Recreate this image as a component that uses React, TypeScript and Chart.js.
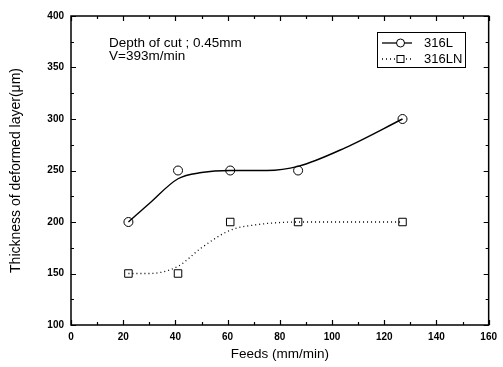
import React, { useEffect, useRef } from "react";
import { Chart, registerables } from "chart.js";

Chart.register(...registerables);

// Measured points (markers)
const feeds = [22, 41, 61, 87, 127];
const thick316L = [200, 250, 250, 250, 300];
const thick316LN = [150, 150, 200, 200, 200];

// Smoothed fit curves
const curveFeedsL = [22, 30, 41, 50, 61, 75, 87, 105, 127];
const curveL = [200, 218, 242, 248, 250, 250, 254, 272, 300];
const curveFeedsLN = [22, 30, 41, 50, 61, 70, 87, 105, 127];
const curveLN = [150, 150, 157, 175, 192, 197, 200, 200, 200];

const seriesNames = ["316L", "316LN"];
const noteLines = ["Depth of cut ; 0.45mm", "V=393m/min"];
const xTitle = "Feeds (mm/min)";
const yTitle = "Thickness of deformed layer(\u03bcm)";

const FONT = "'Liberation Sans', Arial, sans-serif";

const framePlugin = {
  id: "framePlugin",
  afterDraw(chart: any) {
    const { ctx, chartArea: a, scales } = chart;
    const xs = scales.x;
    const ys = scales.y;
    ctx.save();
    ctx.strokeStyle = "#000";
    ctx.lineWidth = 1.5;
    ctx.strokeRect(a.left, a.top, a.right - a.left, a.bottom - a.top);
    ctx.lineWidth = 1.2;
    for (let v = 0; v <= 160; v += 10) {
      const px = Math.round(xs.getPixelForValue(v)) + 0.5;
      const len = v % 20 === 0 ? 5 : 3;
      ctx.beginPath();
      ctx.moveTo(px, a.bottom);
      ctx.lineTo(px, a.bottom - len);
      ctx.moveTo(px, a.top);
      ctx.lineTo(px, a.top + len);
      ctx.stroke();
    }
    for (let v = 100; v <= 400; v += 25) {
      const py = Math.round(ys.getPixelForValue(v)) + 0.5;
      const len = v % 50 === 0 ? 5 : 3;
      ctx.beginPath();
      ctx.moveTo(a.left, py);
      ctx.lineTo(a.left + len, py);
      ctx.moveTo(a.right, py);
      ctx.lineTo(a.right - len, py);
      ctx.stroke();
    }
    // annotation
    ctx.fillStyle = "#000";
    ctx.font = `13.5px ${FONT}`;
    ctx.textBaseline = "middle";
    ctx.textAlign = "left";
    ctx.fillText(noteLines[0], 109, 43);
    ctx.fillText(noteLines[1], 109, 56);
    // legend
    const bx = 377, by = 32, bw = 88, bh = 35;
    ctx.lineWidth = 1;
    ctx.strokeRect(bx + 0.5, by + 0.5, bw, bh);
    const rows = [43, 59];
    ctx.lineWidth = 1.3;
    ctx.setLineDash([]);
    ctx.beginPath();
    ctx.moveTo(382, rows[0]);
    ctx.lineTo(412, rows[0]);
    ctx.stroke();
    ctx.fillStyle = "#fff";
    ctx.lineWidth = 1;
    ctx.beginPath();
    ctx.arc(400.5, rows[0], 4, 0, Math.PI * 2);
    ctx.fill();
    ctx.stroke();
    ctx.lineWidth = 1.3;
    ctx.setLineDash([1, 3]);
    ctx.beginPath();
    ctx.moveTo(382, rows[1]);
    ctx.lineTo(412, rows[1]);
    ctx.stroke();
    ctx.setLineDash([]);
    ctx.lineWidth = 1;
    ctx.fillRect(397, rows[1] - 3.5, 7, 7);
    ctx.strokeRect(397, rows[1] - 3.5, 7, 7);
    ctx.fillStyle = "#000";
    ctx.font = `13px ${FONT}`;
    ctx.fillText(seriesNames[0], 424, rows[0]);
    ctx.fillText(seriesNames[1], 424, rows[1]);
    ctx.restore();
  },
};

export default function App() {
  const ref = useRef<HTMLCanvasElement>(null);
  useEffect(() => {
    document.body.style.margin = "0";
    const toPts = (xs: number[], ys: number[]) => xs.map((x, i) => ({ x, y: ys[i] }));
    const chart = new Chart(ref.current as HTMLCanvasElement, {
      type: "scatter",
      data: {
        datasets: [
          {
            label: seriesNames[0] + " fit",
            data: toPts(curveFeedsL, curveL),
            showLine: true,
            pointRadius: 0,
            borderColor: "#000",
            borderWidth: 1.4,
            cubicInterpolationMode: "monotone",
          },
          {
            label: seriesNames[1] + " fit",
            data: toPts(curveFeedsLN, curveLN),
            showLine: true,
            pointRadius: 0,
            borderColor: "#000",
            borderWidth: 1.3,
            borderDash: [1, 3],
            cubicInterpolationMode: "monotone",
          },
          {
            label: seriesNames[0],
            data: toPts(feeds, thick316L),
            showLine: false,
            pointStyle: "circle",
            pointRadius: 4.5,
            pointBackgroundColor: "#fff",
            pointBorderColor: "#000",
            pointBorderWidth: 1,
          },
          {
            label: seriesNames[1],
            data: toPts(feeds, thick316LN),
            showLine: false,
            pointStyle: "rect",
            pointRadius: 5.3,
            pointBackgroundColor: "#fff",
            pointBorderColor: "#000",
            pointBorderWidth: 1,
          },
        ],
      },
      options: {
        animation: false,
        responsive: false,
        maintainAspectRatio: false,
        layout: { padding: { top: 16, right: 12, left: 0, bottom: 0 } },
        plugins: { legend: { display: false }, tooltip: { enabled: false } },
        scales: {
          x: {
            type: "linear",
            min: 0,
            max: 160,
            grid: { display: false, drawTicks: false },
            border: { display: false },
            ticks: {
              stepSize: 20,
              color: "#000",
              padding: 6,
              font: { family: FONT, size: 10, weight: "bold" },
            },
            title: {
              display: true,
              text: xTitle,
              color: "#000",
              padding: { top: 4, bottom: 5 },
              font: { family: FONT, size: 13.5 },
            },
            afterFit: (s: any) => {
              s.height = 42;
            },
          },
          y: {
            min: 100,
            max: 400,
            grid: { display: false, drawTicks: false },
            border: { display: false },
            ticks: {
              stepSize: 50,
              color: "#000",
              padding: 7,
              font: { family: FONT, size: 10, weight: "bold" },
            },
            title: {
              display: true,
              text: yTitle,
              color: "#000",
              padding: { top: 8, bottom: 0 },
              font: { family: FONT, size: 14 },
            },
            afterFit: (s: any) => {
              s.width = 71;
            },
          },
        },
      },
      plugins: [framePlugin],
    } as any);
    return () => chart.destroy();
  }, []);
  return (
    <div style={{ position: "absolute", left: 0, top: 0, width: 503, height: 367, background: "#fff" }}>
      <canvas ref={ref} width={503} height={367} />
    </div>
  );
}
